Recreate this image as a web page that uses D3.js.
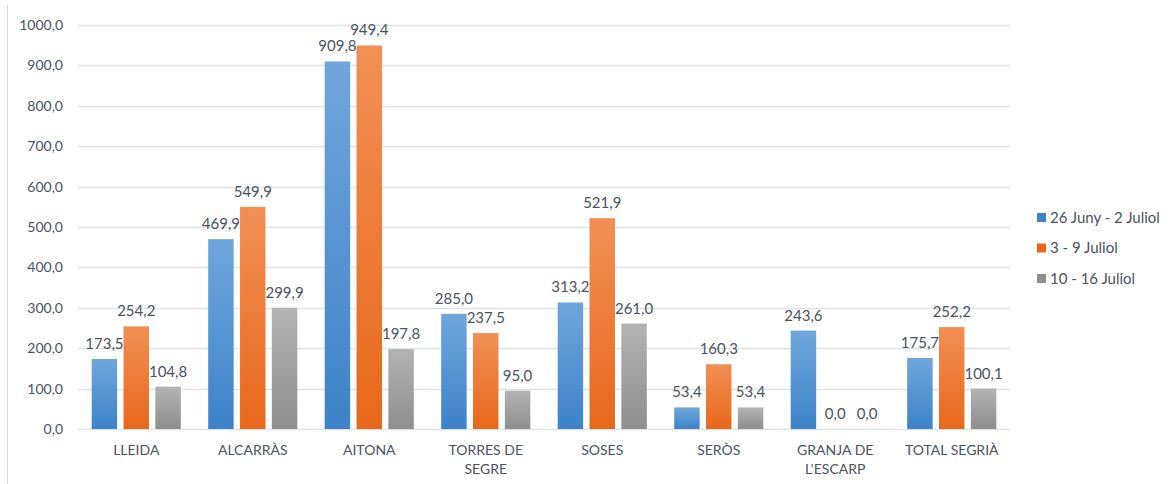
<!DOCTYPE html>
<html>
<head>
<meta charset="utf-8">
<script src="https://d3js.org/d3.v7.min.js"></script>
<style>
  body { margin: 0; background: #fff; }
  text { font-family: Lato, "Open Sans", sans-serif; fill: #4a5262; }
</style>
</head>
<body>
<div id="chart"></div>
<script>
// Data
var categories = [["LLEIDA"], ["ALCARRÀS"], ["AITONA"], ["TORRES DE", "SEGRE"], ["SOSES"], ["SERÒS"], ["GRANJA DE", "L'ESCARP"], ["TOTAL SEGRIÀ"]];
var seriesNames = ["26 Juny - 2 Juliol", "3 - 9 Juliol", "10 - 16 Juliol"];
var week1 = [173.5, 469.9, 909.8, 285.0, 313.2, 53.4, 243.6, 175.7];
var week2 = [254.2, 549.9, 949.4, 237.5, 521.9, 160.3, 0.0, 252.2];
var week3 = [104.8, 299.9, 197.8, 95.0, 261.0, 53.4, 0.0, 100.1];
var yTicks = [0, 100, 200, 300, 400, 500, 600, 700, 800, 900, 1000];

var width = 1174, height = 484;
var margin = { top: 25, right: 164, bottom: 55, left: 78 };
var innerW = width - margin.left - margin.right,
    innerH = height - margin.top - margin.bottom;

var svg = d3.select("#chart")
  .append("svg")
  .attr("width", width)
  .attr("height", height);

// chart border on the left edge
svg.append("line")
  .attr("x1", 7.5).attr("x2", 7.5)
  .attr("y1", 5).attr("y2", height)
  .attr("stroke", "#d9d9d9");

// gradients for the bars
var colors = [["#6fa6dc", "#3d83c9"], ["#f28f55", "#e8681a"], ["#b3b3b3", "#8e8e8e"]];
var defs = svg.append("defs");
colors.forEach(function(c, i) {
  var g = defs.append("linearGradient")
    .attr("id", "grad" + i)
    .attr("x1", 0).attr("y1", 0).attr("x2", 0).attr("y2", 1);
  g.append("stop").attr("offset", "0%").attr("stop-color", c[0]);
  g.append("stop").attr("offset", "100%").attr("stop-color", c[1]);
});

var g = svg.append("g")
  .attr("transform", "translate(" + margin.left + "," + margin.top + ")");

var keys = categories.map(function(d) { return d.join(" "); });

var x = d3.scaleBand()
  .domain(keys)
  .range([0, innerW]);

var xSub = d3.scaleBand()
  .domain([0, 1, 2])
  .range([0, x.bandwidth()])
  .paddingInner(0.2)
  .paddingOuter(0.43);

var y = d3.scaleLinear()
  .domain([0, 1000])
  .range([innerH, 0]);

// Gridlines
g.append("g")
  .selectAll("line")
  .data(yTicks)
  .enter().append("line")
  .attr("x1", 0).attr("x2", innerW)
  .attr("y1", function(d) { return Math.round(y(d)) + 0.5; })
  .attr("y2", function(d) { return Math.round(y(d)) + 0.5; })
  .attr("stroke", "#dfe3e8")
  .attr("stroke-width", 1.5);

// Y axis
var yAxis = g.append("g")
  .call(d3.axisLeft(y).tickValues(yTicks).tickSize(0).tickPadding(15)
    .tickFormat(function(d) { return d3.format(".1f")(d).replace(".", ","); }));
yAxis.select(".domain").remove();
yAxis.selectAll("text")
  .style("font-size", "14px")
  .style("font-family", "Lato, 'Open Sans', sans-serif")
  .attr("fill", "#4a5262");

// X axis labels
var xAxis = g.append("g")
  .attr("transform", "translate(0," + innerH + ")");
categories.forEach(function(lines, i) {
  var t = xAxis.append("text")
    .attr("x", x(keys[i]) + x.bandwidth() / 2)
    .attr("y", 26)
    .attr("text-anchor", "middle")
    .style("font-size", "14px");
  lines.forEach(function(l, j) {
    t.append("tspan")
      .attr("x", x(keys[i]) + x.bandwidth() / 2)
      .attr("dy", j === 0 ? 0 : 19)
      .text(l);
  });
});

// Bars
var series = [week1, week2, week3];
var rows = keys.map(function(k, i) {
  return series.map(function(s, j) { return { cat: k, s: j, value: s[i] }; });
});

var groups = g.append("g")
  .selectAll("g")
  .data(rows)
  .enter().append("g")
  .attr("transform", function(d) { return "translate(" + x(d[0].cat) + ",0)"; });

groups.selectAll("rect")
  .data(function(d) { return d; })
  .enter().append("rect")
  .attr("x", function(d) { return xSub(d.s); })
  .attr("y", function(d) { return y(d.value); })
  .attr("width", xSub.bandwidth())
  .attr("height", function(d) { return innerH - y(d.value); })
  .attr("fill", function(d) { return "url(#grad" + d.s + ")"; });

groups.selectAll("text.val")
  .data(function(d) { return d; })
  .enter().append("text")
  .attr("class", "val")
  .attr("x", function(d) { return xSub(d.s) + xSub.bandwidth() / 2; })
  .attr("y", function(d) { return y(d.value) - 10; })
  .attr("text-anchor", "middle")
  .style("font-size", "15px")
  .text(function(d) { return d3.format(".1f")(d.value).replace(".", ","); });

// Legend
var legend = svg.append("g")
  .attr("transform", "translate(1037,217)");
seriesNames.forEach(function(name, i) {
  var row = legend.append("g").attr("transform", "translate(0," + i * 30.5 + ")");
  row.append("rect")
    .attr("x", 0).attr("y", -4)
    .attr("width", 9).attr("height", 9)
    .attr("fill", colors[i][1]);
  row.append("text")
    .attr("x", 13).attr("y", 5.5)
    .style("font-size", "15px")
    .text(name);
});
</script>
</body>
</html>
